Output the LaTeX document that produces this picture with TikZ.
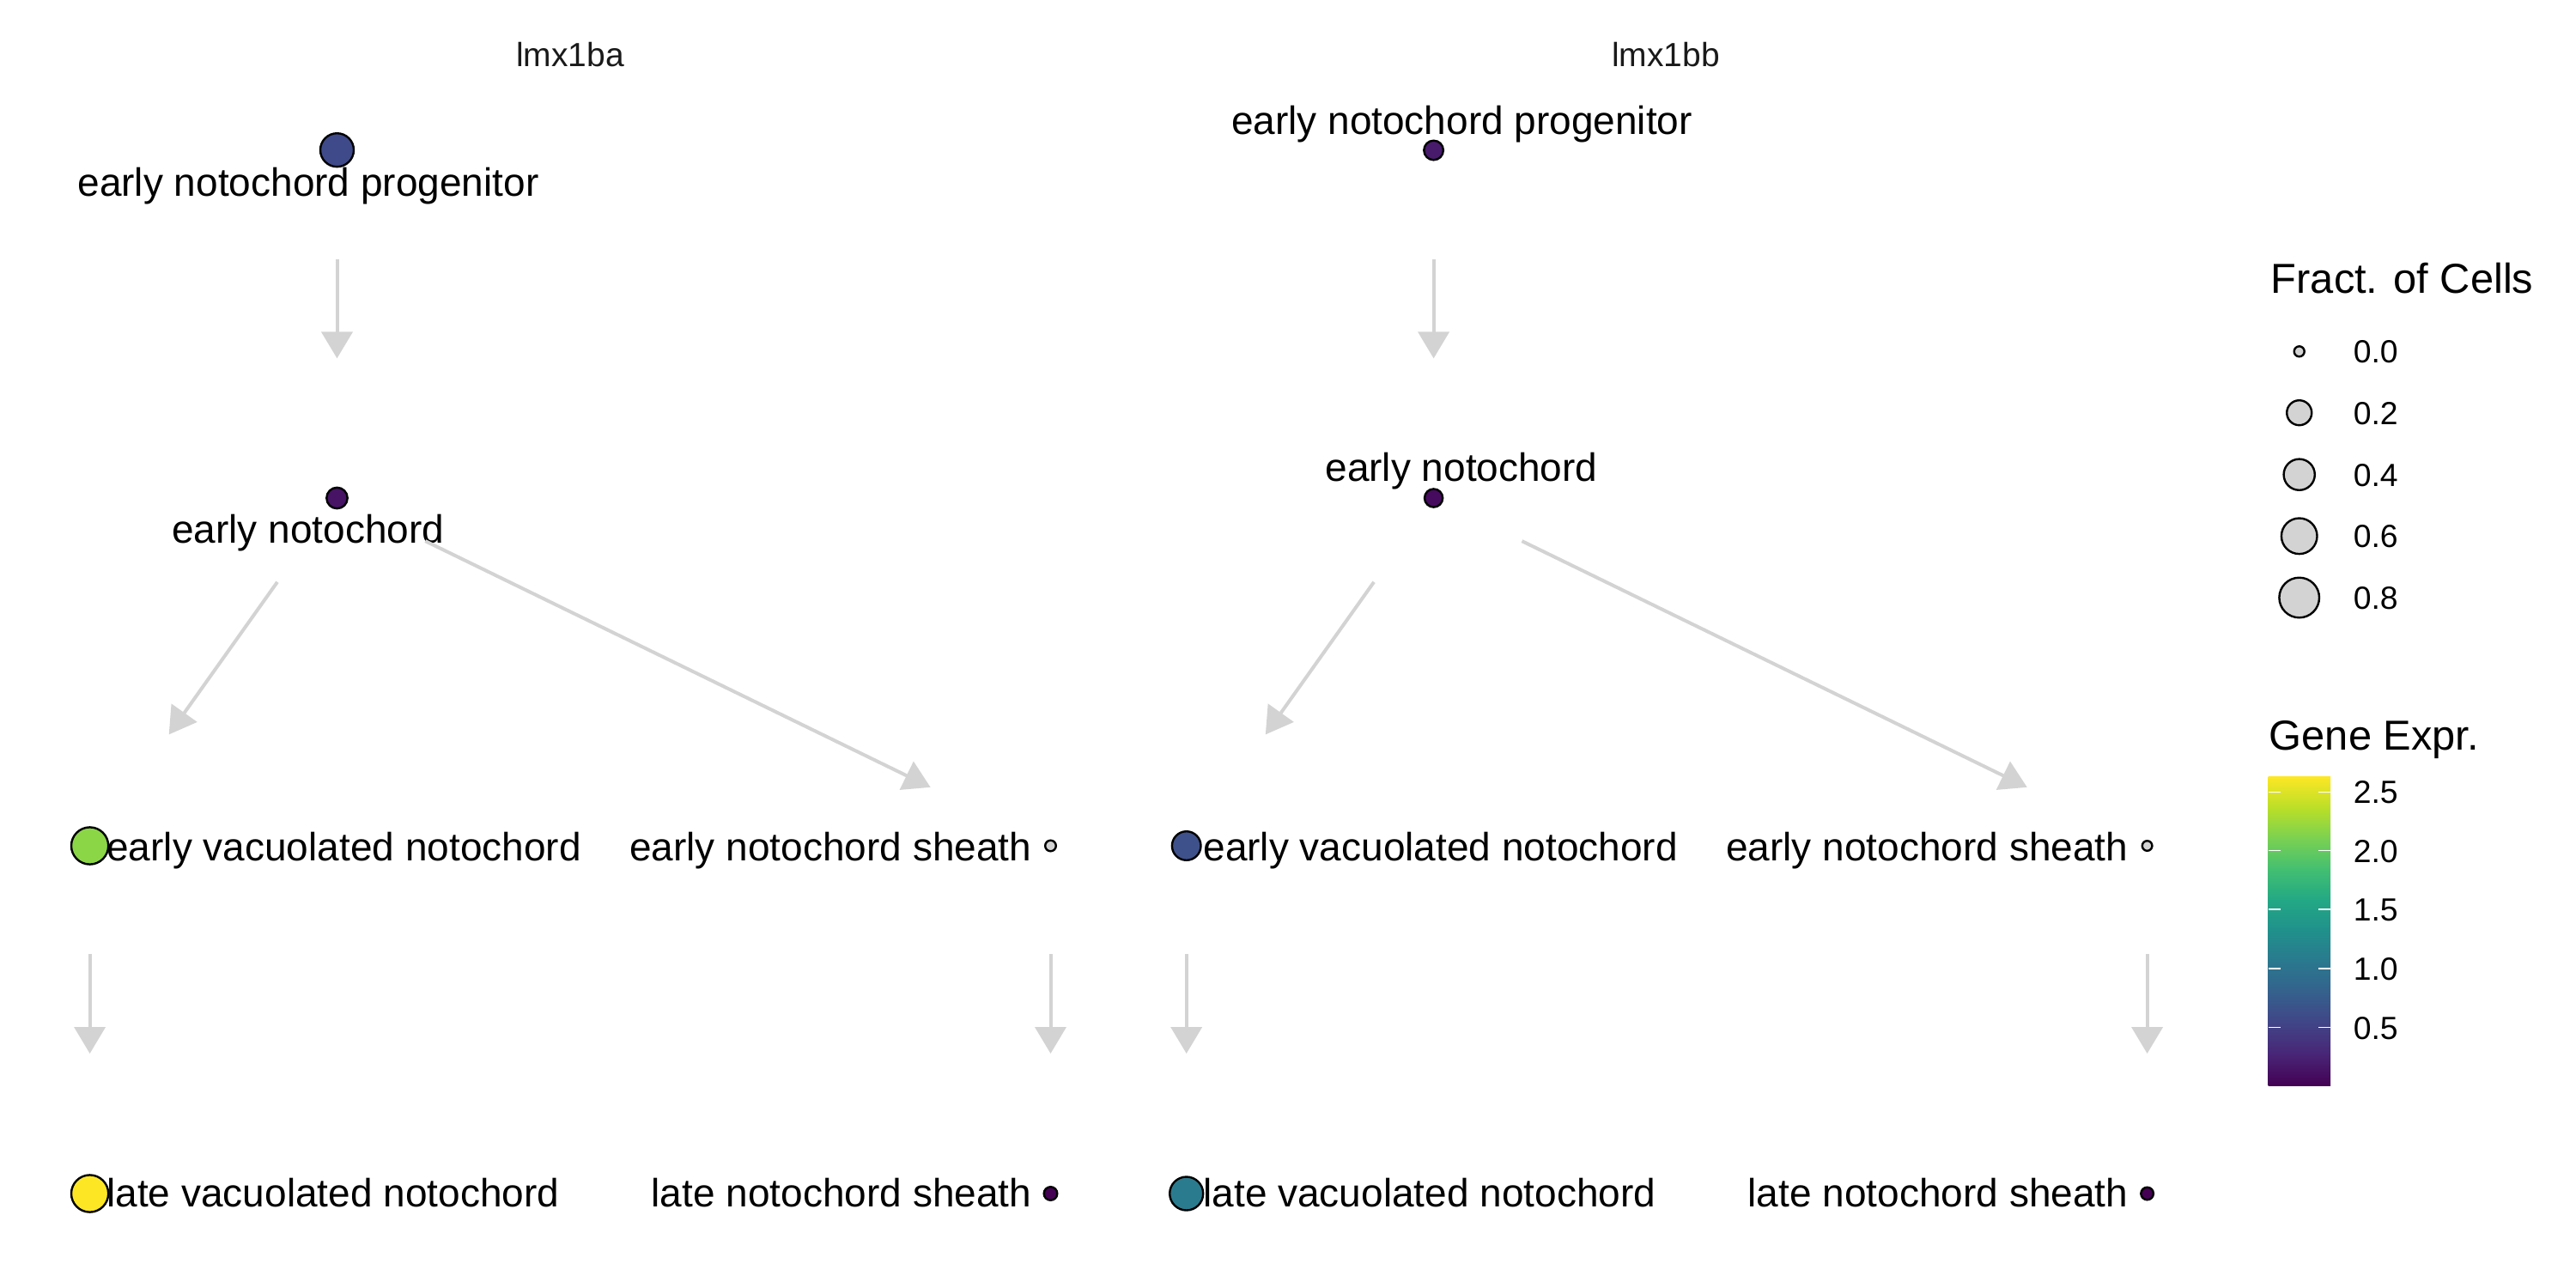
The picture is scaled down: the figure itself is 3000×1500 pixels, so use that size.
\documentclass[tikz,border=0pt]{standalone}
\usepackage{fontspec}
\setmainfont{Liberation Sans}
\usetikzlibrary{arrows.meta}
\definecolor{edgegray}{RGB}{211,211,211}
\definecolor{nagray}{RGB}{211,211,211}
\definecolor{striptext}{RGB}{26,26,26}
\definecolor{vA}{HTML}{440154}
\definecolor{vB}{HTML}{482576}
\definecolor{vC}{HTML}{414487}
\definecolor{vD}{HTML}{35608D}
\definecolor{vE}{HTML}{2A788E}
\definecolor{vF}{HTML}{21908C}
\definecolor{vG}{HTML}{22A884}
\definecolor{vH}{HTML}{43BF71}
\definecolor{vI}{HTML}{7AD151}
\definecolor{vJ}{HTML}{BBDF27}
\definecolor{vK}{HTML}{FDE725}
\definecolor{cLprog}{HTML}{3F4A8A}
\definecolor{cLearly}{HTML}{471365}
\definecolor{cLvac}{HTML}{8BD646}
\definecolor{cLlatevac}{HTML}{FDE725}
\definecolor{cLlatesh}{HTML}{440154}
\definecolor{cRprog}{HTML}{481B6D}
\definecolor{cRearly}{HTML}{460B5E}
\definecolor{cRvac}{HTML}{3F518A}
\definecolor{cRlatevac}{HTML}{2B7B8E}
\definecolor{cRlatesh}{HTML}{440154}
\pgfdeclareverticalshading{viridisbar}{100bp}{color(0bp)=(vA); color(25bp)=(vA); color(30bp)=(vB); color(35bp)=(vC); color(40bp)=(vD); color(45bp)=(vE); color(50bp)=(vF); color(55bp)=(vG); color(60bp)=(vH); color(65bp)=(vI); color(70bp)=(vJ); color(75bp)=(vK); color(100bp)=(vK)}
\begin{document}
\begin{tikzpicture}[x=0.25pt,y=-0.25pt,
  dot/.style={circle, draw=black, line width=0.6pt, inner sep=0pt, minimum size=#1},
  lab/.style={font=\fontsize{11.5}{13}\selectfont, inner sep=0pt, text=black},
  striplab/.style={font=\fontsize{9.75}{11}\selectfont, inner sep=0pt, text=striptext, anchor=base},
  legtitle/.style={font=\fontsize{12.2}{14}\selectfont, inner sep=0pt, anchor=base west},
  legtext/.style={font=\fontsize{9.33}{11}\selectfont, inner sep=0pt, anchor=base west},
  flow/.style={draw=edgegray, line width=1pt, -{Triangle[length=7.75pt,width=9pt]}},
  tick/.style={draw=white, line width=0.3pt}
]
\useasboundingbox (0,0) rectangle (3000,1500);

% strip titles
\node[striplab] (stripL) at (664,77.7) {lmx1ba};
\node[striplab] (stripR) at (1940,77.7) {lmx1bb};

% ---------- left panel labels ----------
\node[lab, anchor=base] (tLprog) at (359,228.3) {early notochord progenitor};
\node[lab, anchor=base] (tLearly) at (358.6,632) {early notochord};
\node[lab, anchor=base west] (tLvac) at (123.6,1002.6) {early vacuolated notochord};
\node[lab, anchor=base east] (tLsh) at (1202,1002.6) {early notochord sheath};
\node[lab, anchor=base west] (tLlatevac) at (123.6,1405.5) {late vacuolated notochord};
\node[lab, anchor=base east] (tLlatesh) at (1202,1405.5) {late notochord sheath};

% ---------- right panel labels ----------
\node[lab, anchor=base] (tRprog) at (1702.5,156) {early notochord progenitor};
\node[lab, anchor=base] (tRearly) at (1702,560) {early notochord};
\node[lab, anchor=base west] (tRvac) at (1400.7,1002.6) {early vacuolated notochord};
\node[lab, anchor=base east] (tRsh) at (2479,1002.6) {early notochord sheath};
\node[lab, anchor=base west] (tRlatevac) at (1400.7,1405.5) {late vacuolated notochord};
\node[lab, anchor=base east] (tRlatesh) at (2479,1405.5) {late notochord sheath};

% ---------- left panel dots ----------
\node[dot=9.75pt, fill=cLprog] (Lprog) at (392.5,174.7) {};
\node[dot=6.1pt, fill=cLearly] (Learly) at (392.5,580) {};
\node[dot=10.8pt, fill=cLvac] (Lvac) at (104.6,985) {};
\node[dot=3.15pt, fill=nagray] (Lsh) at (1223.5,985) {};
\node[dot=10.8pt, fill=cLlatevac] (Llatevac) at (104.6,1390) {};
\node[dot=3.9pt, fill=cLlatesh] (Llatesh) at (1223.5,1390) {};

% ---------- right panel dots ----------
\node[dot=5.65pt, fill=cRprog] (Rprog) at (1669.6,175) {};
\node[dot=5.3pt, fill=cRearly] (Rearly) at (1669.6,580) {};
\node[dot=8.4pt, fill=cRvac] (Rvac) at (1381.7,985) {};
\node[dot=2.9pt, fill=nagray] (Rsh) at (2500.6,985) {};
\node[dot=9.75pt, fill=cRlatevac] (Rlatevac) at (1381.7,1390) {};
\node[dot=3.65pt, fill=cRlatesh] (Rlatesh) at (2500.6,1390) {};

% ---------- edges ----------
\foreach \p in {L,R}{
  \draw[flow, shorten <=31.8pt, shorten >=40.65pt] (\p prog.center) -- (\p early.center);
  \draw[flow, shorten <=30pt, shorten >=39.75pt] (\p early.center) -- (\p vac.center);
  \draw[flow, shorten <=28.6pt, shorten >=38.9pt] (\p early.center) -- (\p sh.center);
  \draw[flow, shorten <=31.5pt, shorten >=40.75pt] (\p vac.center) -- (\p latevac.center);
  \draw[flow, shorten <=31.5pt, shorten >=40.75pt] (\p sh.center) -- (\p latesh.center);
}

% ---------- size legend ----------
\node[legtitle] (fracTitle) at (2644,341.7) {Fract. of Cells};
\node[dot=3pt, fill=nagray] (s0) at (2677.7,409.3) {};
\node[dot=7.25pt, fill=nagray] (s2) at (2677.7,480.7) {};
\node[dot=9.05pt, fill=nagray] (s4) at (2677.7,552.7) {};
\node[dot=10.4pt, fill=nagray] (s6) at (2677.7,624.3) {};
\node[dot=11.65pt, fill=nagray] (s8) at (2677.7,696) {};
\node[legtext] (l0) at (2740,422.7) {0.0};
\node[legtext] (l2) at (2740,494.1) {0.2};
\node[legtext] (l4) at (2740,566.1) {0.4};
\node[legtext] (l6) at (2740,637.7) {0.6};
\node[legtext] (l8) at (2740,709.4) {0.8};

% ---------- colour legend ----------
\node[legtitle] (exprTitle) at (2642,873.3) {Gene Expr.};
\shade[shading=viridisbar] (2641.7,904.3) rectangle (2714,1264.3);
\foreach \yy/\lbl in {922.3/2.5, 990.7/2.0, 1059/1.5, 1128/1.0, 1196.7/0.5}{
  \draw[tick] (2641.7,\yy) -- (2655.7,\yy);
  \draw[tick] (2700,\yy) -- (2714,\yy);
  \node[legtext] at (2740,\yy+13.4) {\lbl};
}
\end{tikzpicture}
\end{document}
